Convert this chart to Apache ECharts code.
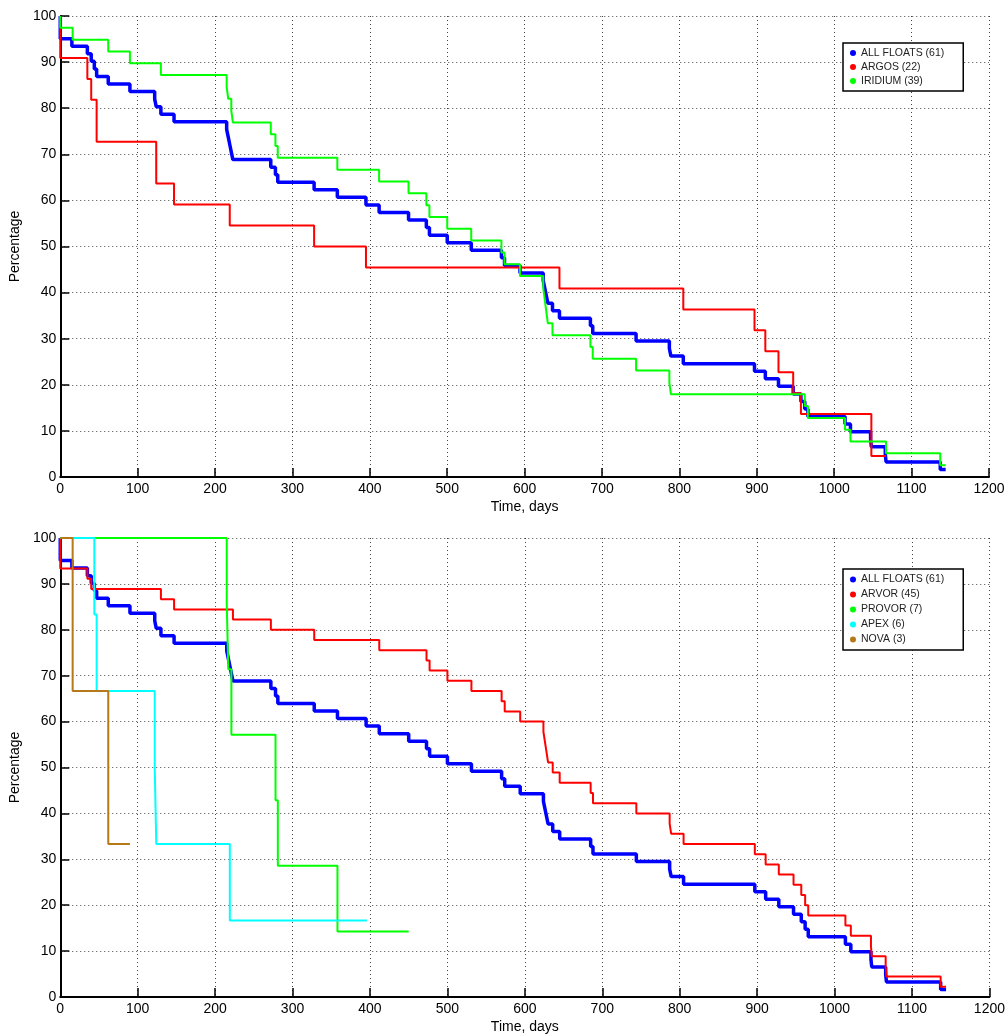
<!DOCTYPE html>
<html><head><meta charset="utf-8">
<script src="https://cdn.jsdelivr.net/npm/echarts@6/dist/echarts.min.js"></script>
<style>html,body{margin:0;padding:0;background:#fff}#c{width:1008px;height:1036px}</style>
</head><body><div id="c"></div>
<script>
// ---- tick labels ----
const xTicks = [0,100,200,300,400,500,600,700,800,900,1000,1100,1200];
const yTicks = [0,10,20,30,40,50,60,70,80,90,100];

// ---- ALL FLOATS (61) ----
const allDays = [0,0,15,35,40,44,47,62,90,122,124,130,147,215,217,219,221,223,272,278,281,328,358,395,412,450,473,477,500,531,570,574,594,624,626,628,630,636,645,685,688,744,787,789,805,897,911,928,947,957,962,966,1014,1021,1047,1048,1066,1067,1137,1144];
const allPct  = [100,95.08,93.44,91.80,90.16,88.52,86.89,85.25,83.61,81.97,80.33,78.69,77.05,75.41,73.77,72.13,70.49,68.85,67.21,65.57,63.93,62.30,60.66,59.02,57.38,55.74,54.10,52.46,50.82,49.18,47.54,45.90,44.26,42.62,40.98,39.34,37.70,36.07,34.43,32.79,31.15,29.51,27.87,26.23,24.59,22.95,21.31,19.67,18.03,16.39,14.75,13.11,11.48,9.84,8.20,6.56,4.92,3.28,1.64,1.64];

// ---- ARGOS (22) ----
const argosDays = [0,0,35,40,47,124,147,219,328,395,645,805,897,911,928,947,957,1048,1067];
const argosPct  = [100,90.91,86.36,81.82,72.73,63.64,59.09,54.55,50.00,45.45,40.91,36.36,31.82,27.27,22.73,18.18,13.64,4.55,4.55];

// ---- IRIDIUM (39) ----
const iridiumDays = [0,0,16,62,90,130,215,217,221,223,272,278,281,358,412,450,473,477,500,531,570,574,594,624,626,628,630,636,685,688,744,787,789,962,966,1014,1021,1067,1137,1144];
const iridiumPct  = [100,97.44,94.87,92.31,89.74,87.18,84.62,82.05,79.49,76.92,74.36,71.79,69.23,66.67,64.10,61.54,58.97,56.41,53.85,51.28,48.72,46.15,43.59,41.03,38.46,35.90,33.33,30.77,28.21,25.64,23.08,20.51,17.95,15.38,12.82,10.26,7.69,5.13,2.56,2.56];

// ---- ARVOR (45) ----
const arvorDays = [0,0,35,40,130,147,223,272,328,412,473,477,500,531,570,574,594,624,626,628,630,636,645,685,688,744,787,789,805,897,911,928,947,957,962,966,1014,1021,1047,1048,1066,1067,1137,1144];
const arvorPct  = [100,93.33,91.11,88.89,86.67,84.44,82.22,80.00,77.78,75.56,73.33,71.11,68.89,66.67,64.44,62.22,60.00,57.78,55.56,53.33,51.11,48.89,46.67,44.44,42.22,40.00,37.78,35.56,33.33,31.11,28.89,26.67,24.44,22.22,20.00,17.78,15.56,13.33,11.11,8.89,6.67,4.44,2.22,2.22];

// ---- PROVOR (7) ----
const provorDays = [0,215,217,221,278,281,358,450];
const provorPct  = [100,85.71,71.43,57.14,42.86,28.57,14.29,14.29];

// ---- APEX (6) ----
const apexDays = [0,44,47,122,124,219,396];
const apexPct  = [100,83.33,66.67,50.00,33.33,16.67,16.67];

// ---- NOVA (3) ----
const novaDays = [0,16,62,90];
const novaPct  = [100,66.67,33.33,33.33];

const FONT = '"Liberation Sans", Arial, Helvetica, sans-serif';
const zip = (a, b) => a.map((d, i) => [d, b[i]]);

function xAx(gi) {
  return {
    type: 'value', gridIndex: gi,
    min: xTicks[0], max: xTicks[xTicks.length - 1], interval: xTicks[1] - xTicks[0],
    name: 'Time, days', nameLocation: 'middle', nameGap: 23,
    nameTextStyle: { color: '#000', fontSize: 14, fontFamily: FONT },
    axisLine: { show: true, onZero: false, lineStyle: { color: '#000', width: 2 } },
    axisTick: { show: true, inside: true, length: 9, lineStyle: { color: '#000', width: 1.5 } },
    axisLabel: { color: '#000', fontSize: 14, margin: 5, fontFamily: FONT, showMinLabel: true, showMaxLabel: true,
                 formatter: v => String(v) },
    splitLine: { show: true, lineStyle: { color: '#444', type: [1, 3], width: 1 } }
  };
}
function yAx(gi) {
  return {
    type: 'value', gridIndex: gi,
    min: yTicks[0], max: yTicks[yTicks.length - 1], interval: yTicks[1] - yTicks[0],
    name: 'Percentage', nameLocation: 'middle', nameGap: 34,
    nameTextStyle: { color: '#000', fontSize: 14, fontFamily: FONT },
    axisLine: { show: true, onZero: false, lineStyle: { color: '#000', width: 2 } },
    axisTick: { show: true, inside: true, length: 9, lineStyle: { color: '#000', width: 1.5 } },
    axisLabel: { color: '#000', fontSize: 14, margin: 4, fontFamily: FONT, showMinLabel: true, showMaxLabel: true,
                 formatter: v => String(v) },
    splitLine: { show: true, lineStyle: { color: '#444', type: [1, 3], width: 1 } }
  };
}
function ser(name, days, pct, color, width, gi) {
  return {
    type: 'line', name: name, xAxisIndex: gi, yAxisIndex: gi,
    data: zip(days, pct), step: 'end', showSymbol: false, symbol: 'circle',
    lineStyle: { color: color, width: width }, itemStyle: { color: color },
    animation: false, silent: true
  };
}
function legend(names, top, lh) {
  return {
    data: names, orient: 'vertical', left: 843, top: top,
    icon: 'circle', itemWidth: 6, itemHeight: 6, itemGap: 0,
    padding: [3, 19, 3, 7],
    backgroundColor: '#fff', borderColor: '#000', borderWidth: 1.5,
    textStyle: { color: '#222', fontSize: 10.5, fontFamily: FONT, lineHeight: lh },
    selectedMode: false
  };
}

const chart = echarts.init(document.getElementById('c'), null, { renderer: 'canvas' });
chart.setOption({
  backgroundColor: '#fff',
  animation: false,
  grid: [
    { left: 59, top: 16, width: 930, height: 461 },
    { left: 59, top: 538, width: 931, height: 459 }
  ],
  xAxis: [xAx(0), xAx(1)],
  yAxis: [yAx(0), yAx(1)],
  legend: [
    legend(['ALL FLOATS (61)', 'ARGOS (22)', 'IRIDIUM (39)'], 43, 14),
    legend(['ALL FLOATS (61)', 'ARVOR (45)', 'PROVOR (7)', 'APEX (6)', 'NOVA (3)'], 569, 15)
  ],
  series: [
    ser('ALL FLOATS (61)', allDays, allPct, '#0000ff', 3.5, 0),
    ser('ARGOS (22)', argosDays, argosPct, '#ff0000', 2, 0),
    ser('IRIDIUM (39)', iridiumDays, iridiumPct, '#00ff00', 2, 0),
    ser('ALL FLOATS (61)', allDays, allPct, '#0000ff', 3.5, 1),
    ser('ARVOR (45)', arvorDays, arvorPct, '#ff0000', 2, 1),
    ser('PROVOR (7)', provorDays, provorPct, '#00ff00', 2, 1),
    ser('APEX (6)', apexDays, apexPct, '#00ffff', 2, 1),
    ser('NOVA (3)', novaDays, novaPct, '#b5791a', 2, 1)
  ]
});
</script>
</body></html>
